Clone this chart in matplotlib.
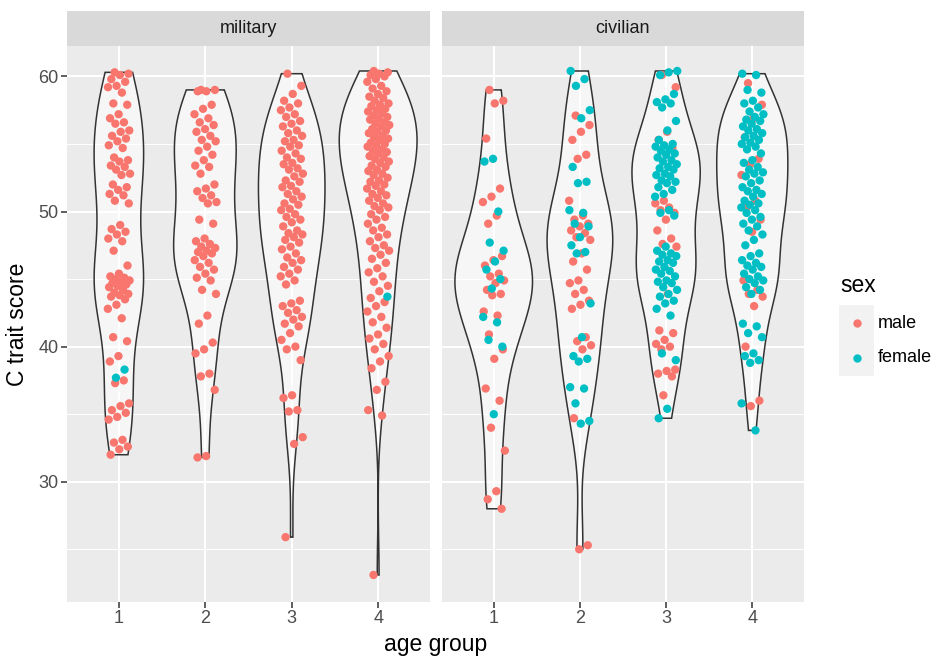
import numpy as np
import matplotlib.pyplot as plt

plt.rcParams['font.family'] = ['Liberation Sans', 'DejaVu Sans']

# C trait scores, per panel / age group / sex
panels = ['military', 'civilian']
age_groups = ['1', '2', '3', '4']

mil1_male = [60.3, 60.2, 60.1, 59.8, 59.6, 59.3, 59.2, 58.8, 58.0, 57.9, 57.2, 56.9, 56.6, 56.5,
             56.0, 55.9, 55.6, 55.4, 55.2, 54.9, 54.7, 54.0, 53.8, 53.7, 53.4, 53.3, 53.1, 52.8,
             52.7, 52.0, 51.8, 51.6, 51.3, 51.2, 50.8, 50.6, 49.0, 48.7, 48.5, 48.3, 48.0, 47.8,
             47.1, 46.0, 45.4, 45.2, 45.1, 45.0, 44.9, 44.8, 44.7, 44.6, 44.5, 44.4, 44.2, 44.0,
             43.9, 43.8, 43.7, 43.5, 43.1, 42.8, 42.1, 40.7, 40.4, 39.3, 38.9, 37.5, 37.3, 35.8,
             35.6, 35.3, 35.1, 34.8, 34.6, 33.1, 32.9, 32.6, 32.4, 32.0]
mil1_female = [38.3, 37.7]

mil2_male = [59.0, 59.0, 58.9, 58.9, 57.9, 57.6, 57.2, 56.9, 56.6, 56.4, 56.1, 55.9, 55.6, 55.3,
             55.2, 54.8, 54.5, 54.2, 53.8, 53.4, 53.3, 52.8, 52.0, 51.7, 51.5, 51.2, 51.0, 50.7,
             50.6, 49.4, 49.1, 48.0, 47.8, 47.6, 47.4, 47.3, 47.1, 47.0, 46.9, 46.7, 46.4, 46.2,
             45.9, 45.7, 45.4, 45.1, 44.9, 44.2, 43.9, 42.3, 41.7, 40.3, 39.8, 39.5, 38.0, 37.8,
             36.8, 31.9, 31.8]
mil2_female = []

mil3_male = [60.2, 59.3, 58.7, 58.2, 58.0, 57.7, 57.5, 57.2, 57.0, 56.7, 56.5, 56.3, 56.0, 55.8,
             55.6, 55.3, 55.2, 54.9, 54.8, 54.5, 54.3, 54.0, 53.9, 53.6, 53.5, 53.2, 53.1, 52.8,
             52.6, 52.3, 52.2, 51.9, 51.8, 51.5, 51.3, 51.1, 50.9, 50.6, 50.5, 50.2, 50.1, 49.8,
             49.6, 49.4, 49.2, 48.9, 48.6, 48.4, 48.3, 48.1, 47.9, 47.7, 47.4, 47.2, 46.9, 46.6,
             46.4, 46.2, 45.9, 45.7, 45.4, 45.2, 44.9, 44.6, 43.4, 43.2, 43.0, 42.7, 42.5, 42.2,
             42.0, 41.7, 41.5, 41.0, 40.5, 40.0, 39.8, 39.0, 36.4, 36.2, 35.3, 35.2, 33.3, 32.8,
             25.9]
mil3_female = []

mil4_male = [60.4, 60.3, 60.2, 60.1, 60.0, 59.8, 59.6, 59.3, 59.1, 58.9, 58.7, 58.5, 58.4, 58.2,
             58.0, 57.9, 57.8, 57.6, 57.5, 57.4, 57.3, 57.1, 57.0, 56.9, 56.8, 56.6, 56.5, 56.4,
             56.3, 56.1, 56.0, 55.9, 55.8, 55.6, 55.5, 55.4, 55.3, 55.1, 55.0, 54.9, 54.8, 54.6,
             54.5, 54.4, 54.3, 54.1, 54.0, 53.9, 53.7, 53.6, 53.4, 53.3, 53.1, 53.0, 52.8, 52.7,
             52.5, 52.3, 52.2, 52.0, 51.9, 51.7, 51.5, 51.3, 51.2, 51.0, 50.8, 50.6, 50.4, 50.3,
             50.1, 49.8, 49.6, 49.4, 49.1, 48.8, 48.6, 48.3, 48.1, 47.8, 47.5, 47.3, 47.1, 46.8,
             46.5, 46.2, 45.8, 45.5, 45.2, 44.8, 44.5, 44.1, 43.6, 43.3, 43.0, 42.6, 42.2, 41.8,
             41.4, 40.9, 40.6, 40.2, 39.8, 39.3, 38.9, 38.4, 37.4, 36.8, 35.3, 34.9, 23.1]
mil4_female = [43.7]

civ1_male = [59.0, 58.2, 58.0, 55.4, 51.7, 51.1, 50.7, 49.7, 49.1, 46.7, 46.4, 46.0, 45.4, 45.2,
             44.9, 44.7, 44.2, 43.9, 43.8, 42.6, 42.3, 40.9, 39.8, 39.1, 36.9, 36.0, 34.0, 32.3,
             29.3, 28.7, 28.0]
civ1_female = [53.9, 53.7, 50.0, 47.7, 47.1, 46.3, 45.7, 45.0, 44.3, 42.2, 41.8, 40.5, 40.0, 35.0]

civ2_male = [57.1, 56.4, 55.9, 55.3, 54.2, 53.9, 50.8, 49.7, 49.4, 49.1, 48.9, 48.6, 48.4, 48.1,
             47.9, 46.9, 46.3, 45.7, 44.9, 44.7, 44.2, 43.9, 43.4, 43.1, 42.8, 40.7, 40.4, 40.1,
             39.8, 34.7, 25.3, 25.0]
civ2_female = [60.4, 59.8, 59.3, 57.5, 56.9, 53.3, 52.2, 52.1, 50.1, 49.9, 49.1, 48.9, 48.1, 47.5,
               47.0, 46.9, 43.2, 40.7, 39.3, 39.1, 38.9, 37.0, 36.9, 35.8, 34.5, 34.3]

civ3_male = [60.1, 59.2, 55.9, 55.3, 54.7, 50.8, 50.6, 50.3, 50.1, 49.9, 49.4, 48.6, 48.0, 47.6,
             47.4, 43.9, 41.2, 41.0, 40.5, 40.2, 40.0, 39.8, 38.3, 38.2, 38.0, 37.8, 36.4]
civ3_female = [60.4, 60.3, 60.1, 58.7, 58.3, 58.1, 58.0, 57.7, 56.7, 56.0, 55.3, 55.0, 54.9, 54.8,
               54.6, 54.5, 54.3, 54.2, 54.0, 53.8, 53.7, 53.5, 53.3, 53.2, 53.1, 52.8, 52.7, 52.6,
               52.3, 52.2, 52.1, 51.8, 51.6, 51.3, 51.1, 50.1, 49.9, 49.7, 47.4, 47.1, 46.9, 46.8,
               46.7, 46.4, 46.3, 46.2, 45.9, 45.7, 45.6, 45.4, 45.2, 44.9, 44.8, 44.7, 44.4, 44.2,
               43.9, 43.7, 43.4, 43.2, 42.8, 42.3, 39.5, 39.0, 35.4, 34.7]

civ4_male = [59.5, 57.9, 56.9, 55.5, 53.9, 53.5, 52.7, 50.8, 50.3, 49.4, 48.5, 44.9, 44.2, 43.9,
             43.7, 43.0, 40.0, 36.0, 35.6]
civ4_female = [60.2, 60.1, 59.0, 58.8, 58.2, 58.0, 57.7, 57.4, 57.2, 57.0, 56.8, 56.7, 56.5, 56.3,
               56.1, 56.0, 55.8, 55.6, 55.5, 55.3, 55.1, 55.0, 54.8, 54.6, 54.3, 53.8, 53.6, 53.3,
               53.1, 52.9, 52.8, 52.6, 52.3, 52.1, 51.8, 51.6, 51.5, 51.3, 51.1, 50.8, 50.6, 50.5,
               50.3, 50.1, 49.9, 49.6, 49.4, 49.1, 48.9, 48.6, 48.3, 47.9, 47.5, 46.9, 46.7, 46.4,
               46.2, 46.0, 45.9, 45.7, 45.4, 45.2, 45.0, 44.9, 44.7, 44.4, 44.2, 43.9, 41.7, 41.5,
               41.0, 40.7, 39.5, 39.3, 39.0, 38.8, 35.8, 33.8]

data = {
    'military': [(mil1_male, mil1_female), (mil2_male, mil2_female),
                 (mil3_male, mil3_female), (mil4_male, mil4_female)],
    'civilian': [(civ1_male, civ1_female), (civ2_male, civ2_female),
                 (civ3_male, civ3_female), (civ4_male, civ4_female)],
}

MALE = '#F8766D'
FEMALE = '#00BFC4'
W, H = 941, 659


def bw_nrd0(x):
    sd = np.std(x, ddof=1)
    iqr = np.subtract(*np.percentile(x, [75, 25]))
    lo = min(sd, iqr / 1.34)
    if lo <= 0:
        lo = sd
    return 0.9 * lo * len(x) ** -0.2


def kde(x, n=512):
    x = np.asarray(x)
    bw = bw_nrd0(x)
    grid = np.linspace(x.min(), x.max(), n)
    z = (grid[:, None] - x[None, :]) / bw
    dens = np.exp(-0.5 * z ** 2).sum(axis=1) / (len(x) * bw * np.sqrt(2 * np.pi))
    return grid, dens


def px_box(x0, y0, x1, y1):
    # pixel box (top-left origin) -> figure fraction rect
    return [x0 / W, (H - y1) / H, (x1 - x0) / W, (y1 - y0) / H]


fig = plt.figure(figsize=(W / 100, H / 100), dpi=100)

panel_px = {'military': (67, 430), 'civilian': (442, 804)}
top_px, bot_px = 46, 602

for name in panels:
    x0, x1 = panel_px[name]
    ax = fig.add_axes(px_box(x0, top_px, x1, bot_px))
    ax.set_facecolor('#EBEBEB')
    for s in ax.spines.values():
        s.set_visible(False)
    ax.set_xlim(0.4, 4.6)
    ax.set_ylim(21.1, 62.25)
    ax.set_xticks(range(1, 5))
    ax.set_xticklabels(age_groups)
    ax.set_yticks([30, 40, 50, 60])
    ax.set_yticks([25, 35, 45, 55], minor=True)
    ax.set_axisbelow(True)
    ax.grid(which='major', color='white', lw=1.5)
    ax.grid(which='minor', axis='y', color='white', lw=0.75)
    ax.tick_params(which='major', length=4, width=1.1, color='#333333',
                   labelsize=13, labelcolor='#4D4D4D', pad=2)
    ax.tick_params(which='minor', length=0)
    if name == 'civilian':
        ax.tick_params(axis='y', length=0, labelleft=False)

    groups = data[name]
    dens_list = [kde(m + f) for m, f in groups]
    dmax = max(d.max() for _, d in dens_list)

    for i, ((males, females), (grid, dens)) in enumerate(zip(groups, dens_list)):
        xc = i + 1
        hw = 0.45 * dens / dmax
        vx = np.concatenate([xc - hw, (xc + hw)[::-1]])
        vy = np.concatenate([grid, grid[::-1]])
        ax.fill(vx, vy, facecolor='white', alpha=0.6, zorder=2)
        ax.fill(vx, vy, facecolor='none', edgecolor='#333333', lw=1.1, zorder=3)

        vals = np.array(males + females)
        cols = [MALE] * len(males) + [FEMALE] * len(females)
        idx = np.arange(len(vals))
        jit = (np.modf(idx * 0.6180339887 + 0.31)[0] - 0.5) * 2 * 0.13
        ax.scatter(xc + jit, vals, c=cols, s=36, linewidths=0, zorder=4)

    # facet strip
    sax = fig.add_axes(px_box(x0, 11, x1, top_px))
    sax.set_facecolor('#D9D9D9')
    sax.set_xticks([])
    sax.set_yticks([])
    for s in sax.spines.values():
        s.set_visible(False)
    sax.text(0.5, 0.5, name, ha='center', va='center', fontsize=13, color='#1A1A1A',
             transform=sax.transAxes)

# axis titles
fig.text(18 / W, 1 - 324 / H, 'C trait score', rotation=90, ha='center', va='center',
         fontsize=16.5)
fig.text(435.5 / W, 1 - 645 / H, 'age group', ha='center', va='center', fontsize=16.5)

# legend
fig.text(840 / W, 1 - 292 / H, 'sex', ha='left', va='baseline', fontsize=16.5)
lax = fig.add_axes(px_box(839, 305, 874, 376))
lax.set_facecolor('#F2F2F2')
lax.set_xlim(0, 1)
lax.set_ylim(0, 2)
lax.set_xticks([])
lax.set_yticks([])
for s in lax.spines.values():
    s.set_visible(False)
lax.scatter([0.5], [1.5], c=MALE, s=36, linewidths=0)
lax.scatter([0.5], [0.5], c=FEMALE, s=36, linewidths=0)
fig.text(878 / W, 1 - 323 / H, 'male', ha='left', va='center', fontsize=13)
fig.text(878 / W, 1 - 358 / H, 'female', ha='left', va='center', fontsize=13)

fig.savefig('out.png', dpi=100)
